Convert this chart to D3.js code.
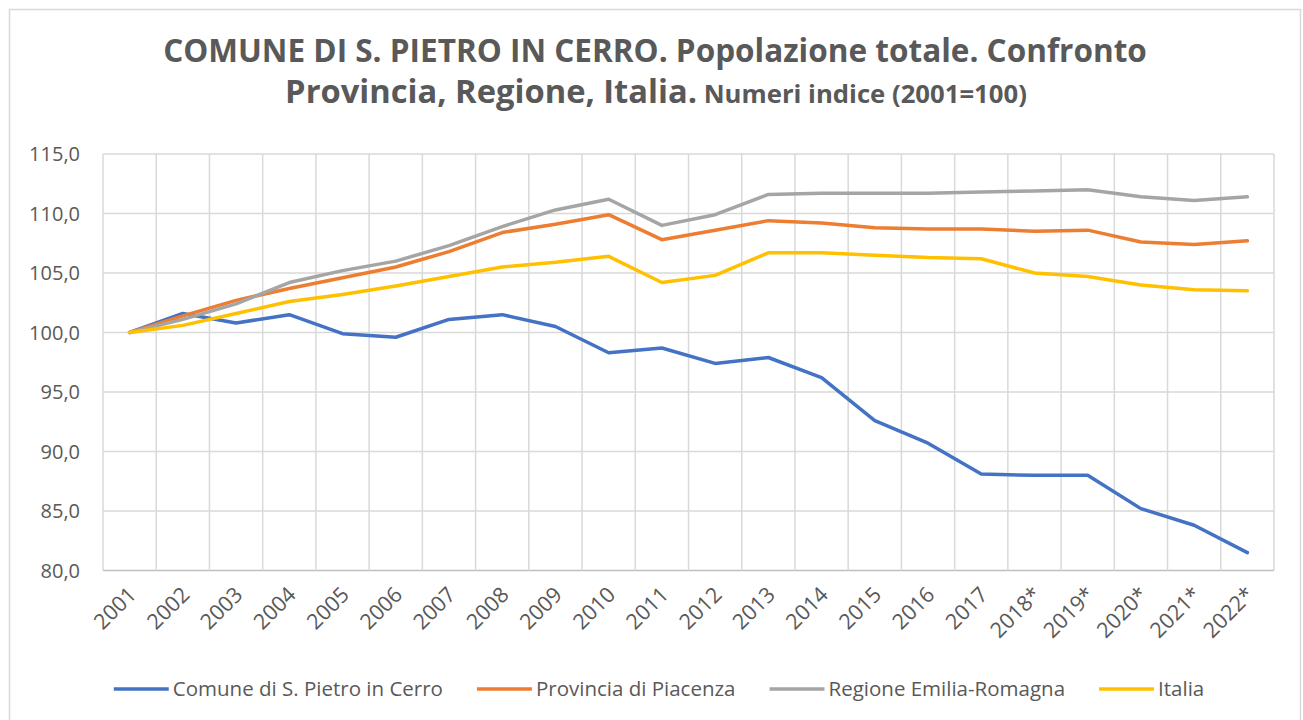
<!DOCTYPE html>
<html>
<head>
<meta charset="utf-8">
<script src="https://d3js.org/d3.v7.min.js"></script>
<style>
  body { margin: 0; background: #fff; }
  text { font-family: "Open Sans", "Noto Sans", sans-serif; fill: #595959; }
</style>
</head>
<body>
<div id="chart"></div>
<script>
// data
var years = ["2001", "2002", "2003", "2004", "2005", "2006", "2007", "2008", "2009", "2010", "2011",
  "2012", "2013", "2014", "2015", "2016", "2017", "2018*", "2019*", "2020*", "2021*", "2022*"];
var comune = [100, 101.6, 100.8, 101.5, 99.9, 99.6, 101.1, 101.5, 100.5, 98.3, 98.7,
  97.4, 97.9, 96.2, 92.6, 90.7, 88.1, 88.0, 88.0, 85.2, 83.8, 81.5];
var provincia = [100, 101.4, 102.7, 103.7, 104.6, 105.5, 106.8, 108.4, 109.1, 109.9, 107.8,
  108.6, 109.4, 109.2, 108.8, 108.7, 108.7, 108.5, 108.6, 107.6, 107.4, 107.7];
var regione = [100, 101.1, 102.4, 104.2, 105.2, 106.0, 107.3, 108.9, 110.3, 111.2, 109.0,
  109.9, 111.6, 111.7, 111.7, 111.7, 111.8, 111.9, 112.0, 111.4, 111.1, 111.4];
var italia = [100, 100.6, 101.6, 102.6, 103.2, 103.9, 104.7, 105.5, 105.9, 106.4, 104.2,
  104.8, 106.7, 106.7, 106.5, 106.3, 106.2, 105.0, 104.7, 104.0, 103.6, 103.5];
var yTicks = [80, 85, 90, 95, 100, 105, 110, 115];
var seriesNames = ["Comune di S. Pietro in Cerro", "Provincia di Piacenza", "Regione Emilia-Romagna", "Italia"];
var seriesColors = ["#4472C4", "#ED7D31", "#A5A5A5", "#FFC000"];

var series = [comune, provincia, regione, italia].map(function(vals, i) {
  return { name: seriesNames[i], color: seriesColors[i], values: vals };
});

var svgWidth = 1303;
var svgHeight = 720;

var svg = d3.select("#chart").append("svg")
  .attr("width", svgWidth)
  .attr("height", svgHeight);

svg.append("rect")
  .attr("x", 9.5).attr("y", 9.5)
  .attr("width", 1291).attr("height", 720)
  .attr("fill", "#fff")
  .attr("stroke", "#d9d9d9")
  .attr("stroke-width", 1.5);

var x = d3.scaleBand().domain(years).range([103, 1274]);
var y = d3.scaleLinear().domain([80, 115]).range([570.5, 154]);
var bw = x.bandwidth();

// gridlines
svg.append("g").selectAll("line.h")
  .data(yTicks)
  .enter().append("line")
  .attr("x1", 103).attr("x2", 1274)
  .attr("y1", d => y(d)).attr("y2", d => y(d))
  .attr("stroke", d => d === 80 ? "#bfbfbf" : "#d9d9d9")
  .attr("stroke-width", 1.5);

svg.append("g").selectAll("line.v")
  .data(years.concat(["end"]))
  .enter().append("line")
  .attr("x1", d => d === "end" ? 1274 : x(d))
  .attr("x2", d => d === "end" ? 1274 : x(d))
  .attr("y1", y(115)).attr("y2", y(80))
  .attr("stroke", "#d9d9d9")
  .attr("stroke-width", 1.5);

// y labels
var fmt = d3.format(".1f");
svg.append("g").selectAll("text")
  .data(yTicks)
  .enter().append("text")
  .attr("x", 80)
  .attr("y", d => y(d))
  .attr("dy", "0.35em")
  .attr("text-anchor", "end")
  .style("font-size", "20px")
  .text(d => fmt(d).replace(".", ","));

// x labels
svg.append("g").selectAll("text")
  .data(years)
  .enter().append("text")
  .attr("transform", d => "translate(" + (x(d) + bw / 2 + 8) + "," + 596 + ") rotate(-45)")
  .attr("text-anchor", "end")
  .style("font-size", "21.5px")
  .text(d => d);

// lines
var line = d3.line()
  .x((d, i) => x(years[i]) + bw / 2)
  .y(d => y(d));

svg.append("g").selectAll("path")
  .data(series)
  .enter().append("path")
  .attr("d", d => line(d.values))
  .attr("fill", "none")
  .attr("stroke", d => d.color)
  .attr("stroke-width", 3.5)
  .attr("stroke-linejoin", "round")
  .attr("stroke-linecap", "round");

// title
function fitText(sel, target) {
  var w = sel.node().getComputedTextLength();
  var fs = parseFloat(sel.style("font-size"));
  sel.style("font-size", (fs * target / w) + "px");
}

var t1 = svg.append("text")
  .attr("x", 655).attr("y", 62)
  .attr("text-anchor", "middle")
  .style("font-size", "28px")
  .style("font-weight", "bold")
  .text("COMUNE DI S. PIETRO IN CERRO. Popolazione totale. Confronto");
fitText(t1, 984);

var t2 = svg.append("text")
  .attr("x", 656).attr("y", 103)
  .attr("text-anchor", "middle")
  .style("font-weight", "bold");
t2.append("tspan").style("font-size", "28px").text("Provincia, Regione, Italia.");
t2.append("tspan").style("font-size", "22px").text(" Numeri indice (2001=100)");
var w2 = t2.node().getComputedTextLength();
var k2 = 742 / w2;
t2.selectAll("tspan").each(function() {
  var s = d3.select(this);
  s.style("font-size", (parseFloat(s.style("font-size")) * k2) + "px");
});

// legend
var legend = svg.append("g");
var lx = 0;
series.forEach(function(s) {
  var g = legend.append("g");
  g.append("line")
    .attr("x1", lx).attr("x2", lx + 55)
    .attr("y1", 689).attr("y2", 689)
    .attr("stroke", s.color)
    .attr("stroke-width", 3.5);
  var t = g.append("text")
    .attr("x", lx + 59).attr("y", 689)
    .attr("dy", "0.35em")
    .style("font-size", "20.5px")
    .text(s.name);
  lx += 59 + t.node().getComputedTextLength() + 34;
});
var legendWidth = lx - 34;
legend.attr("transform", "translate(" + (659 - legendWidth / 2) + ",0)");
</script>
</body>
</html>
